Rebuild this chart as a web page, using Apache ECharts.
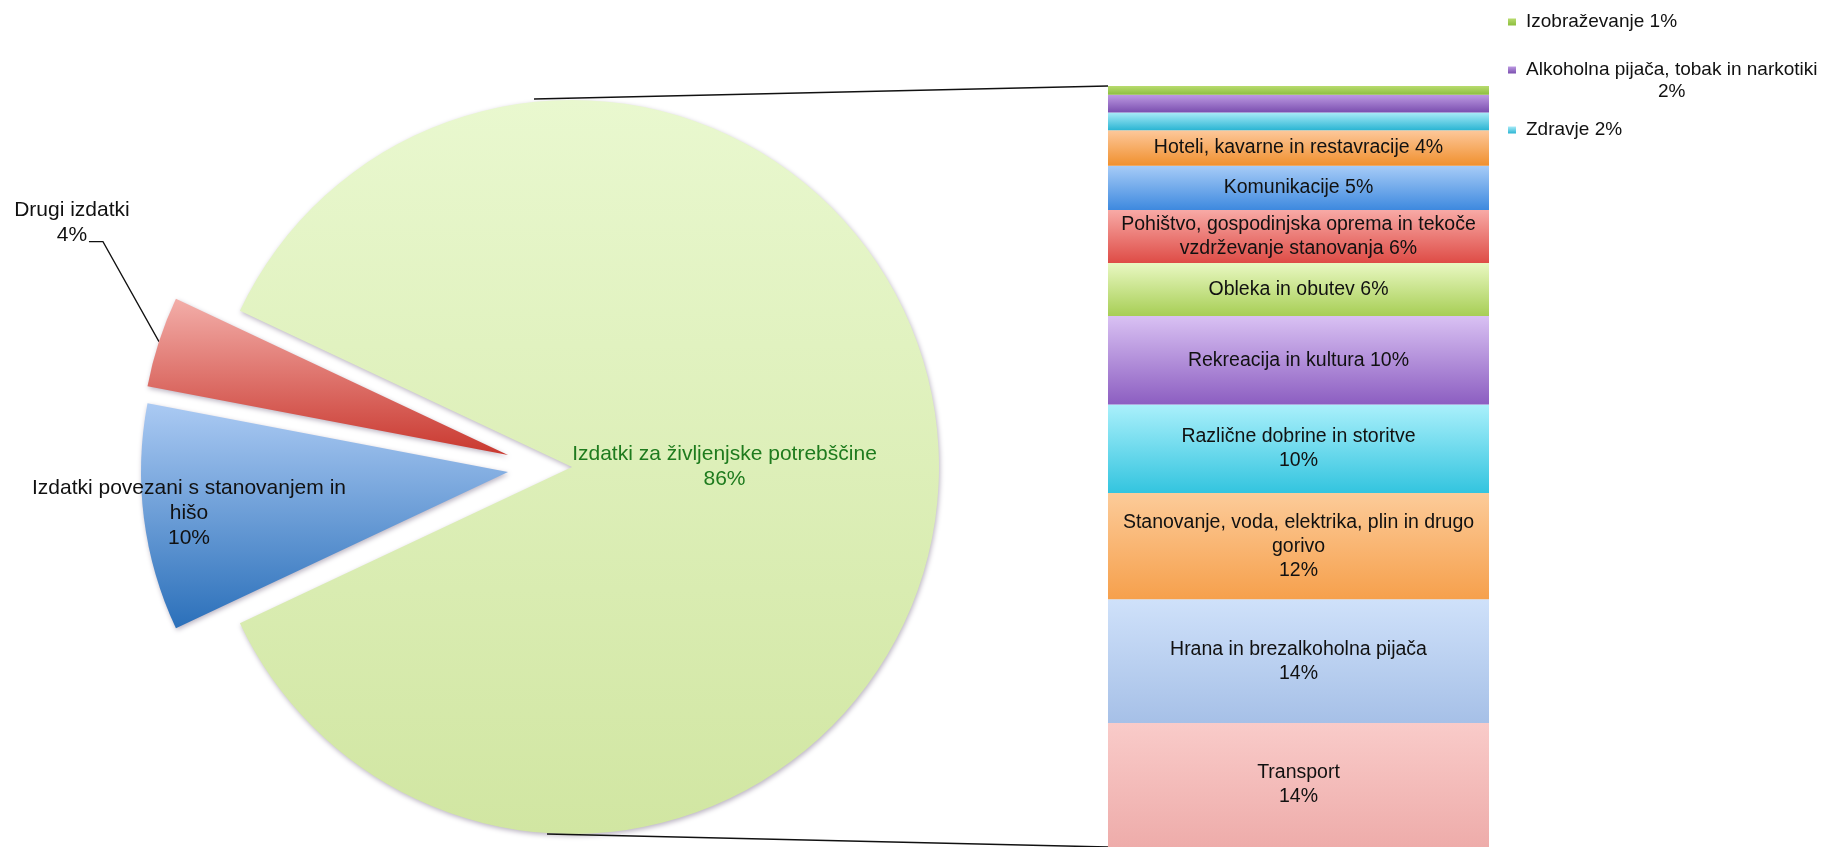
<!DOCTYPE html>
<html>
<head>
<meta charset="utf-8">
<title>Izdatki gospodinjstev</title>
<script src="https://cdn.jsdelivr.net/npm/echarts@6/dist/echarts.min.js"></script>
<style>
  html, body { margin: 0; padding: 0; background: #fff; }
  #chart { width: 1833px; height: 847px; }
</style>
</head>
<body>
<div id="chart"></div>
<script>
const FONT = '"Liberation Sans", Arial, sans-serif';

// left pie: main groups of expenditure
const mainNames = ['Izdatki za življenjske potrebščine', 'Izdatki povezani s stanovanjem in\nhišo', 'Drugi izdatki'];
const mainValues = [86, 10, 4];
const mainColors = [['#e9f8cf', '#d1e6a2'], ['#abcaf3', '#2b70ba'], ['#f3aea9', '#c9382f']];
const mainLabelColors = ['#1e7b1e', '#111', '#111'];

// right column: breakdown of the 86 %, bottom to top
const subNames = [
  'Transport',
  'Hrana in brezalkoholna pijača',
  'Stanovanje, voda, elektrika, plin in drugo\ngorivo',
  'Različne dobrine in storitve',
  'Rekreacija in kultura',
  'Obleka in obutev',
  'Pohištvo, gospodinjska oprema in tekoče\nvzdrževanje stanovanja',
  'Komunikacije',
  'Hoteli, kavarne in restavracije',
  'Zdravje',
  'Alkoholna pijača, tobak in narkotiki',
  'Izobraževanje'
];
const subValues = [14, 14, 12, 10, 10, 6, 6, 5, 4, 2, 2, 1];
const valueOnNewLine = [true, true, true, true, false, false, false, false, false, false, false, false];
const subColors = [
  ['#f9cbc9', '#eeacaa'],
  ['#cfe1fa', '#a6c0e7'],
  ['#fccb99', '#f6a04c'],
  ['#aaf0fb', '#33c4df'],
  ['#d9c1f3', '#8c5ec1'],
  ['#e9f8c2', '#a7ce55'],
  ['#f8aaa6', '#de4c46'],
  ['#a7ccf7', '#3e89df'],
  ['#fdc89b', '#f0902e'],
  ['#a8ebf8', '#2bb5d3'],
  ['#bd9ae2', '#7a4eaf'],
  ['#b8db6e', '#8cbe3e']
];
// too thin for a label inside the column, shown in the legend instead
const legendNames = ['Izobraževanje', 'Alkoholna pijača, tobak in narkotiki', 'Zdravje'];
const legendTops = [11, 37, 119];

// layout
const PIE_C = [572, 467];
const PIE_R = 367;
const explode = [[0, 0], [-64, 5], [-64, -12]];
const BAR = { left: 1108, top: 86, width: 381, height: 761 };

const grad = (c) => ({
  type: 'linear', x: 0, y: 0, x2: 0, y2: 1,
  colorStops: [{ offset: 0, color: c[0] }, { offset: 1, color: c[1] }]
});

const total = mainValues.reduce((a, b) => a + b, 0);
const subTotal = subValues.reduce((a, b) => a + b, 0);
// the big slice is centred on the right side
const startAngle = mainValues[0] / total * 180;

function midAngle(i) {
  const before = mainValues.slice(0, i).reduce((a, b) => a + b, 0);
  return (startAngle - (before + mainValues[i] / 2) / total * 360) * Math.PI / 180;
}

// one pie per slice so each slice can be pulled out on its own
const pieSeries = mainValues.map((v, i) => {
  const cx = PIE_C[0] + explode[i][0];
  const cy = PIE_C[1] + explode[i][1];
  const a = midAngle(i);
  const edge = [cx + PIE_R * Math.cos(a), cy - PIE_R * Math.sin(a)];
  let labelLayout;
  if (i === 0) labelLayout = { dx: -34 };
  else if (i === 1) labelLayout = { dx: -134, dy: 18 };
  else labelLayout = {
    x: edge[0] - 87, y: edge[1] - 119, align: 'center', verticalAlign: 'middle',
    labelLinePoints: [edge, [edge[0] - 56, edge[1] - 100], [edge[0] - 70, edge[1] - 100]]
  };
  return {
    type: 'pie',
    silent: true,
    center: [cx, cy],
    radius: PIE_R,
    startAngle: startAngle,
    clockwise: true,
    avoidLabelOverlap: false,
    emphasis: { disabled: true },
    label: {
      position: i === 2 ? 'outside' : 'inside',
      fontFamily: FONT,
      fontSize: 21,
      lineHeight: 25,
      align: 'center',
      width: 400,
      overflow: 'none'
    },
    labelLine: { show: i === 2, lineStyle: { color: '#111', width: 1.3 } },
    labelLayout: labelLayout,
    data: mainValues.map((val, j) => j === i ? {
      value: val,
      name: mainNames[j],
      itemStyle: {
        color: grad(mainColors[j]),
        shadowColor: 'rgba(60,40,80,0.35)', shadowBlur: 5, shadowOffsetX: 1, shadowOffsetY: 2
      },
      label: { show: true, color: mainLabelColors[j], formatter: '{b}\n{c}%' }
    } : {
      value: val,
      name: mainNames[j],
      itemStyle: { color: 'transparent' },
      label: { show: false },
      labelLine: { show: false }
    })
  };
});

const barSeries = subNames.map((name, i) => ({
  type: 'bar',
  name: name,
  stack: 'sub',
  barWidth: '100%',
  silent: true,
  data: [subValues[i]],
  itemStyle: { color: grad(subColors[i]) },
  label: {
    show: legendNames.indexOf(name) < 0,
    position: 'inside',
    color: '#111',
    fontFamily: FONT,
    fontSize: 19.5,
    lineHeight: 24,
    formatter: name + (valueOnNewLine[i] ? '\n' : ' ') + '{c}%'
  }
}));

const legends = legendNames.map((name, k) => {
  const v = subValues[subNames.indexOf(name)];
  const twoLines = name.length > 25;
  return {
    data: [name],
    left: 1508,
    top: legendTops[k],
    padding: 0,
    orient: 'vertical',
    icon: 'rect',
    itemWidth: 8,
    itemHeight: 7,
    selectedMode: false,
    textStyle: {
      fontFamily: FONT,
      fontSize: 19,
      lineHeight: 22,
      color: '#111',
      padding: twoLines ? [22, 0, 0, 5] : [0, 0, 0, 5],
      rich: { c: { align: 'center', fontFamily: FONT, fontSize: 19, lineHeight: 22, color: '#111' } }
    },
    formatter: (n) => twoLines ? '{c|' + n + '}\n{c|' + v + '%}' : n + ' ' + v + '%'
  };
});

const chart = echarts.init(document.getElementById('chart'));
chart.setOption({
  animation: false,
  backgroundColor: '#fff',
  grid: { left: BAR.left, top: BAR.top, width: BAR.width, height: BAR.height, containLabel: false },
  xAxis: { type: 'category', data: [''], show: false },
  yAxis: { type: 'value', min: 0, max: subTotal, show: false },
  legend: legends,
  graphic: [
    {
      type: 'line', z: 5,
      shape: { x1: PIE_C[0] - 38, y1: PIE_C[1] - PIE_R - 1, x2: BAR.left, y2: BAR.top },
      style: { stroke: '#111', lineWidth: 1.5 }
    },
    {
      type: 'line', z: 5,
      shape: { x1: PIE_C[0] - 25, y1: PIE_C[1] + PIE_R, x2: BAR.left, y2: BAR.top + BAR.height },
      style: { stroke: '#111', lineWidth: 1.5 }
    }
  ],
  series: pieSeries.concat(barSeries)
});
</script>
</body>
</html>
